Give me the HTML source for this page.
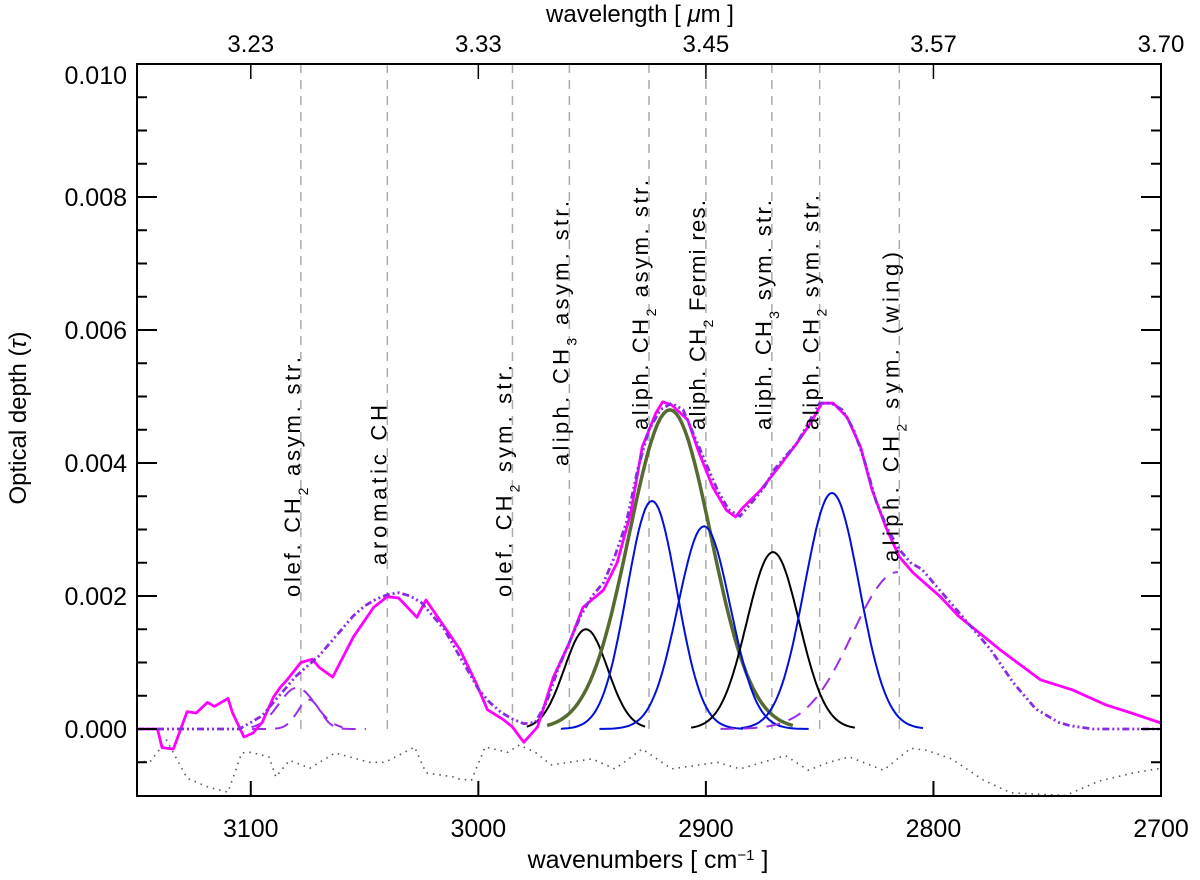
<!DOCTYPE html>
<html><head><meta charset="utf-8"><style>
html,body{margin:0;padding:0;background:#fff;}
svg{display:block;font-family:"Liberation Sans",sans-serif;}
</style></head><body>
<svg id="chart" width="1200" height="880" viewBox="0 0 1200 880" xmlns="http://www.w3.org/2000/svg">
<g id="grid"></g>
<g id="series"></g>
<g id="axes"></g>
<g id="labels"></g>
</svg>
<script>
// ---- data ----
const xTicks = [3100, 3000, 2900, 2800, 2700];
const yTicks = [0, 0.002, 0.004, 0.006, 0.008, 0.010];
const yTickLabels = ["0.000","0.002","0.004","0.006","0.008","0.010"];
const topTickLabels = ["3.23","3.33","3.45","3.57","3.70"];
const bandCenters = [3078, 3040, 2985, 2960, 2925, 2900, 2871, 2850, 2815];
const bandLabelStart = [597, 565, 597, 466, 430, 430, 430, 430, 562];
const bandLabelLen = [240, 160, 232, 265, 250, 230, 230, 235, 310];
const compCenters = [3079.7, 3074.4, 2952.7, 2923.7, 2915.8, 2900.8, 2870.5, 2844.6, 2815.6];
const compAmps = [0.00062, 0.00044, 0.0015, 0.00343, 0.0048, 0.00305, 0.00266, 0.00355, 0.00236];
const compSigmas = [8, 5, 9.5, 11, 18, 11.5, 11.5, 12, 20];
const compLeftRange = [20, 25, 26, 40, 54, 46, 36, 40, 78];
const compRightRange = [20, 25, 26, 40, 54, 46, 36, 40, 0];
const compKinds = ["pdash","pdash","black","blue","green","blue","black","blue","pdash"];
const obsWn = [3150,3141,3139,3134,3128,3124,3119,3116,3110,3108,3103,3099,3095,3090,3087,3084,3078,3073,3070,3064,3055,3046,3040,3035,3027,3023,3014,3008,3001,2996,2989,2985,2980,2974,2967,2960,2954,2945,2939,2933,2928,2922,2919,2915,2908,2903,2897,2891,2887,2884,2876,2868,2860,2854,2849,2844,2838,2832,2827,2821,2815,2809,2802,2797,2789,2771,2753,2739,2724,2713,2700];
const obsTau = [0,0,-0.00028,-0.0003,0.00026,0.00024,0.0004,0.00034,0.00046,0.00024,-0.00012,-0.00006,0.0001,0.00048,0.00063,0.00074,0.001,0.00105,0.00093,0.00078,0.00138,0.00183,0.00199,0.00197,0.00168,0.00194,0.00149,0.00119,0.00069,0.00029,0.00014,0.00003,-0.0002,0.00003,0.00078,0.0013,0.00183,0.00209,0.0025,0.00325,0.00424,0.00475,0.00492,0.00487,0.00465,0.00415,0.00364,0.00329,0.00319,0.00332,0.00359,0.00394,0.0043,0.0046,0.0049,0.0049,0.00469,0.00424,0.0036,0.00304,0.00259,0.00235,0.00214,0.00199,0.0017,0.0012,0.00074,0.00059,0.00036,0.00024,0.00009];
const fitWn = [3150,3105,3100,3095,3090,3085,3080,3075,3070,3065,3060,3055,3050,3045,3040,3035,3030,3025,3020,3015,3010,3005,3000,2995,2990,2985,2980,2975,2970,2965,2960,2955,2950,2945,2940,2935,2930,2925,2920,2915,2910,2905,2900,2895,2890,2885,2880,2875,2870,2865,2860,2855,2850,2845,2840,2835,2830,2825,2820,2815,2810,2805,2800,2795,2790,2785,2780,2775,2770,2765,2760,2755,2750,2745,2740,2730,2700];
const fitTau = [0,0,0.0001,0.0002,0.0004,0.0006,0.0008,0.00095,0.0011,0.0013,0.0015,0.0017,0.00185,0.00195,0.00202,0.00205,0.002,0.0019,0.0017,0.0015,0.0012,0.0009,0.0006,0.0004,0.00025,0.00015,0.00008,0.0001,0.0004,0.0009,0.0013,0.0017,0.002,0.0022,0.0026,0.0031,0.0039,0.0045,0.0048,0.0049,0.0048,0.0044,0.004,0.0036,0.0033,0.0032,0.0034,0.0036,0.0039,0.0041,0.0043,0.0046,0.0049,0.0049,0.0048,0.0045,0.004,0.0034,0.003,0.0027,0.0025,0.0024,0.0022,0.002,0.0018,0.0016,0.0014,0.0012,0.00095,0.0007,0.0005,0.0003,0.0002,0.0001,0.00005,0,0];
const resWn = [3150,3144,3137,3128,3119,3110,3104,3100,3092,3089,3083,3074,3063,3048,3041,3028,3023,3011,3009,3003,2997,2987,2982,2975,2968,2960,2950,2940,2928,2915,2905,2895,2885,2875,2865,2855,2846,2837,2822,2810,2803,2792,2778,2766,2742,2727,2712,2700];
const resTau = [-0.0005,-0.00048,-0.00017,-0.00074,-0.00087,-0.00095,-0.00036,-0.00035,-0.00042,-0.00072,-0.00047,-0.00059,-0.00036,-0.0005,-0.0005,-0.00027,-0.00066,-0.00072,-0.00075,-0.00077,-0.00027,-0.00035,-0.00024,-0.00035,-0.00054,-0.0005,-0.00045,-0.0006,-0.0003,-0.0006,-0.00055,-0.0005,-0.0006,-0.0005,-0.0004,-0.00062,-0.0005,-0.00042,-0.00062,-0.00029,-0.00032,-0.00045,-0.00077,-0.00096,-0.001,-0.00078,-0.00066,-0.00059];

// ---- scales ----
const L=137, R=1161, T=64, B=796;
const X = wn => L + (3150 - wn) * (R - L) / 450;
const Y = t => 729 - t * 66500;
const NS = "http://www.w3.org/2000/svg";
function mk(tag, parent, attrs){ const e=document.createElementNS(NS,tag); for(const k in attrs) e.setAttribute(k,attrs[k]); parent.appendChild(e); return e; }
const grid=document.getElementById('grid'), series=document.getElementById('series'), axes=document.getElementById('axes'), labels=document.getElementById('labels');
const pathFrom = (ws, ts) => ws.map((w,i)=>(i?'L':'M')+X(w).toFixed(1)+','+Y(ts[i]).toFixed(1)).join(' ');

bandCenters.forEach((c,i)=>{
  const l = mk('line', grid, {x1:X(c), x2:X(c), y1:T, y2:Y(0), stroke:'#aaa', 'stroke-width':1.5, 'stroke-dasharray':'9,7'});
  
  
});

const res = mk('path', series, {d:pathFrom(resWn,resTau), fill:'none', stroke:'#555', 'stroke-width':1.6, 'stroke-dasharray':'1.5,5'});



const colors = {pdash:'#9a2ee8', black:'#000', blue:'#0010d8', green:'#556b2f'};
compCenters.forEach((c,i)=>{
  const ws=[], ts=[];
  const lo=c+compLeftRange[i], hi=c-compRightRange[i];
  for(let k=0;k<=80;k++){ const w=lo+(hi-lo)*k/80; ws.push(w); ts.push(compAmps[i]*Math.exp(-((w-c)**2)/(2*compSigmas[i]**2))); }
  const kind = compKinds[i];
  const p = mk('path', series, {d:pathFrom(ws,ts), fill:'none', stroke:colors[kind], 'stroke-width': kind==='green'?3.5:2});
  if(kind==='pdash') p.setAttribute('stroke-dasharray','14,9');
  
  
});

const obs = mk('path', series, {d:pathFrom(obsWn,obsTau), fill:'none', stroke:'#ff00ff', 'stroke-width':2.8, 'stroke-linejoin':'round'});


const fit = mk('path', series, {d:pathFrom(fitWn,fitTau), fill:'none', stroke:'#8a2be2', 'stroke-width':2.8, 'stroke-dasharray':'7,3,2,3,2,3'});



const box = mk('rect', axes, {x:L, y:T, width:R-L, height:B-T, fill:'none', stroke:'#000', 'stroke-width':2});


xTicks.forEach((v,i)=>{
  const x=X(v);
  mk('line', axes, {x1:x,x2:x,y1:B,y2:B-15,stroke:'#000','stroke-width':2});
  mk('line', axes, {x1:x,x2:x,y1:T,y2:T+15,stroke:'#000','stroke-width':1.5});
  const t = mk('text', axes, {x:x, y:837, 'text-anchor':'middle', 'font-size':25, fill:'#000'});
  t.textContent = String(v);
  
  
  const tt = mk('text', axes, {x:x, y:52, 'text-anchor':'middle', 'font-size':24, fill:'#000'});
  tt.textContent = topTickLabels[i];
  
  
});
for(let v=-0.0005; v<0.01; v+=0.0005){
  const y=Y(v), major = Math.abs(Math.round(v*10000)%20)===0;
  const len = major?20:10;
  mk('line', axes, {x1:L,x2:L+len,y1:y,y2:y,stroke:'#000','stroke-width':2});
  mk('line', axes, {x1:R,x2:R-len,y1:y,y2:y,stroke:'#000','stroke-width':2});
}
yTicks.forEach((v,i)=>{
  const t = mk('text', axes, {x:127, y:(i===yTicks.length-1?75:Y(v))+9, 'text-anchor':'end', 'font-size':25, fill:'#000'});
  t.textContent = yTickLabels[i];
  
  
});
</script>
<script>
const s=document.getElementById('chart');
s.insertAdjacentHTML('beforeend', `
<text x="648" y="868" text-anchor="middle" font-size="25">wavenumbers [ cm<tspan baseline-shift="super" font-size="15">−1</tspan> ]</text>
<text x="640" y="22" text-anchor="middle" font-size="24">wavelength [ <tspan font-style="italic">μ</tspan>m ]</text>
<text transform="translate(26,418) rotate(-90)" text-anchor="middle" font-size="24">Optical depth (<tspan font-style="italic">τ</tspan>)</text>
`);
const lab=[
 'olef. CH<tspan baseline-shift="sub" font-size="14">2</tspan> asym. str.',
 'aromatic CH',
 'olef. CH<tspan baseline-shift="sub" font-size="14">2</tspan> sym. str.',
 'aliph. CH<tspan baseline-shift="sub" font-size="14">3</tspan> asym. str.',
 'aliph. CH<tspan baseline-shift="sub" font-size="14">2</tspan> asym. str.',
 'aliph. CH<tspan baseline-shift="sub" font-size="14">2</tspan> Fermi res.',
 'aliph. CH<tspan baseline-shift="sub" font-size="14">3</tspan> sym. str.',
 'aliph. CH<tspan baseline-shift="sub" font-size="14">2</tspan> sym. str.',
 'aliph. CH<tspan baseline-shift="sub" font-size="14">2</tspan> sym. (wing)'];
const lg=document.getElementById('labels');
let html='';
bandCenters.forEach((c,i)=>{
  const x=X(c)-1, y=bandLabelStart[i];
  html+=`<text transform="translate(${x.toFixed(1)},${y}) rotate(-90)" font-size="22" textLength="${bandLabelLen[i]}" lengthAdjust="spacing">${lab[i]}</text>`;
});
lg.innerHTML=html;
</script>
</body></html>
